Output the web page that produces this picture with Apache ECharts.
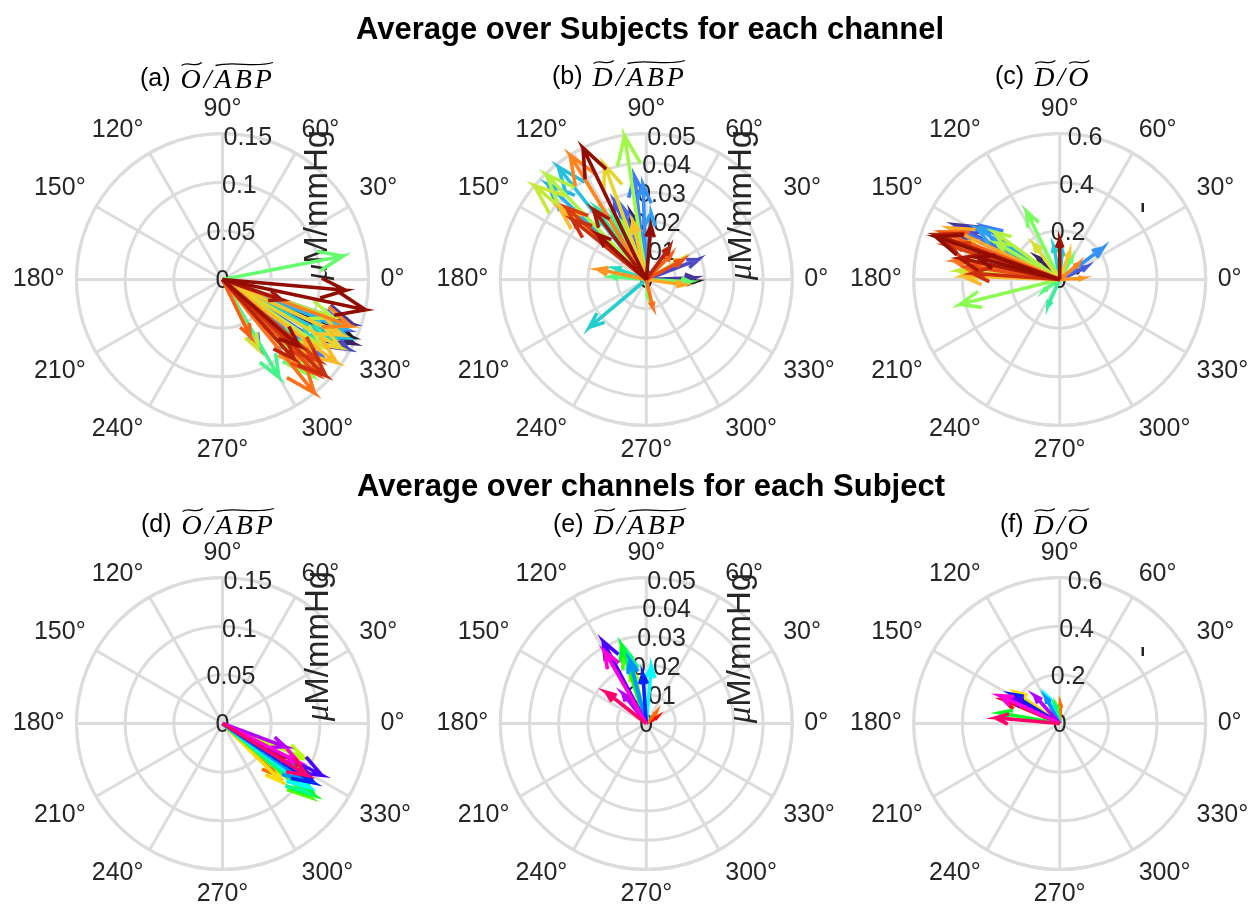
<!DOCTYPE html>
<html>
<head>
<meta charset="utf-8">
<script src="https://cdn.jsdelivr.net/npm/echarts@6/dist/echarts.min.js"></script>
<style>
  html, body { margin: 0; padding: 0; background: #ffffff; }
  #chart { width: 1252px; height: 909px; }
</style>
</head>
<body>
<div id="chart"></div>
<script>
// ---- angular ticks (degrees) ----
const angleTicks = [0, 30, 60, 90, 120, 150, 180, 210, 240, 270, 300, 330];

// ---- radial ticks for each quantity ----
const ticksOABP = [0, 0.05, 0.1, 0.15];
const labelsOABP = ['0', '0.05', '0.1', '0.15'];
const ticksDABP = [0, 0.01, 0.02, 0.03, 0.04, 0.05];
const labelsDABP = ['0', '0.01', '0.02', '0.03', '0.04', '0.05'];
const ticksDO = [0, 0.2, 0.4, 0.6];
const labelsDO = ['0', '0.2', '0.4', '0.6'];

// ---- (a) O/ABP, average over subjects, one arrow per channel: magnitude, phase (deg) ----
const magA = [0.146, 0.150, 0.142, 0.148, 0.139, 0.120, 0.132, 0.081, 0.112, 0.135,
              0.142, 0.128, 0.115, 0.124, 0.100, 0.116, 0.130, 0.126, 0.118, 0.135,
              0.140, 0.120, 0.125, 0.080, 0.140, 0.135, 0.145, 0.128, 0.120, 0.140,
              0.150, 0.065, 0.138, 0.130, 0.145, 0.110, 0.064, 0.104, 0.150, 0.127];
const phsA = [336, 334, 341, 331, 338, 327, 322, 298, 316, 338,
              335, 332, 325, 330, 318, 300, 312, 11, 320, 313,
              317, 341, 326, 297, 330, 335, 324, 318, 312, 340,
              309, 296, 315, 320, 317, 312, 341, 319, 348, 355];

// ---- (b) D/ABP, average over subjects ----
const magB = [0.0171, 0.0234, 0.0165, 0.019, 0.029, 0.026, 0.0356, 0.0325, 0.0229, 0.047,
              0.049, 0.0255, 0.0116, 0.030, 0.022, 0.025, 0.012, 0.015, 0.006, 0.020,
              0.0497, 0.0497, 0.050, 0.014, 0.0418, 0.0204, 0.0385, 0.013, 0.0169, 0.050,
              0.0098, 0.012, 0.014, 0.0368, 0.0325, 0.0135, 0.030, 0.0226, 0.0183, 0.050];
const phsB = [358, 103, 2, 21, 112, 108, 96.5, 92, 86, 136,
              128, 220, 160, 125, 120, 117, 175, 357, 275, 112,
              98.6, 133.6, 140, 30, 110, 103, 140.4, 352, 168, 121.5,
              283, 45, 28, 138, 141, 54, 127, 137, 85, 115.7];

// ---- (c) D/O, average over subjects ----
const magC = [0.09, 0.13, 0.485, 0.47, 0.123, 0.46, 0.38, 0.22, 0.40, 0.25,
              0.12, 0.14, 0.35, 0.30, 0.12, 0.40, 0.08, 0.10, 0.311, 0.422,
              0.30, 0.33, 0.42, 0.18, 0.45, 0.12, 0.40, 0.50, 0.095, 0.10,
              0.44, 0.52, 0.38, 0.49, 0.36, 0.54, 0.42, 0.164, 0.35, 0.541];
const phsC = [25, 135, 152.4, 155, 25, 153, 145, 36, 148, 150,
              85, 100, 165, 160, 246, 168, 215, 60, 116, 194,
              150, 144, 175, 126, 160, 70, 178, 155, 3, 40,
              170, 158, 172, 163, 176, 160, 168, 90, 165, 160.9];

// ---- (d) O/ABP, average over channels, one arrow per subject ----
const magD = [0.095, 0.077, 0.0855, 0.092, 0.118, 0.120, 0.113, 0.110, 0.100, 0.112, 0.115, 0.069, 0.088, 0.102];
const phsD = [330, 316.5, 315.5, 337, 320, 322, 321, 323.6, 325, 327, 332.5, 339.6, 333, 328.5];

// ---- (e) D/ABP, average over channels ----
const magE = [0.004, 0.005, 0.017, 0.019, 0.025, 0.0282, 0.024, 0.0196, 0.0225, 0.017, 0.0317, 0.013, 0.0284, 0.0174];
const phsE = [30, 48, 103, 106, 108, 107.4, 104, 85, 104.7, 94, 117.7, 128, 120, 142];

// ---- (f) D/O, average over channels ----
const magF = [0.25, 0.08, 0.218, 0.20, 0.075, 0.25, 0.076, 0.127, 0.12, 0.23, 0.22, 0.153, 0.27, 0.265];
const phsF = [157, 88, 144.4, 150, 100, 170, 105, 115.4, 118, 148.5, 152, 131.8, 155, 175];

// ---- colour maps ----
function turbo(t) {
  const r = 0.13572138 + t * (4.61539260 + t * (-42.66032258 + t * (132.13108234 + t * (-152.94239396 + t * 59.28637943))));
  const g = 0.09140261 + t * (2.19418839 + t * (4.84296658 + t * (-14.18503333 + t * (4.27729857 + t * 2.82956604))));
  const b = 0.10667330 + t * (12.64194608 + t * (-60.58204836 + t * (110.36276771 + t * (-89.90310912 + t * 27.34824973))));
  const c = v => Math.round(255 * Math.max(0, Math.min(1, v)));
  return 'rgb(' + c(r) + ',' + c(g) + ',' + c(b) + ')';
}
function hsv(h) {
  const i = Math.floor(h * 6), f = h * 6 - i;
  const q = 1 - f, t = f;
  const rgb = [[1, t, 0], [q, 1, 0], [0, 1, t], [0, q, 1], [t, 0, 1], [1, 0, q]][i % 6];
  return 'rgb(' + rgb.map(v => Math.round(v * 255)).join(',') + ')';
}
const channelColor = (i, n) => turbo(i / (n - 1));
const subjectColor = (i, n) => hsv(i / n);

// ---- layout ----
const GRID = '#dcdcdc';
const LABEL = '#262626';
const SANS = '"Liberation Sans", Arial, sans-serif';
const SERIF = '"Liberation Serif", "Times New Roman", serif';
const R = 146;
const centers = [[222.5, 279.5], [646.3, 279.5], [1059.7, 279.5],
                 [222.5, 723.5], [646.3, 723.5], [1059.7, 723.5]];

const panels = [
  { mag: magA, phs: phsA, ticks: ticksOABP, labels: labelsOABP, step: 0.05, color: channelColor },
  { mag: magB, phs: phsB, ticks: ticksDABP, labels: labelsDABP, step: 0.01, color: channelColor },
  { mag: magC, phs: phsC, ticks: ticksDO, labels: labelsDO, step: 0.2, color: channelColor },
  { mag: magD, phs: phsD, ticks: ticksOABP, labels: labelsOABP, step: 0.05, color: subjectColor },
  { mag: magE, phs: phsE, ticks: ticksDABP, labels: labelsDABP, step: 0.01, color: subjectColor },
  { mag: magF, phs: phsF, ticks: ticksDO, labels: labelsDO, step: 0.2, color: subjectColor }
];

const polar = centers.map(c => ({ center: c, radius: R }));

const angleAxis = panels.map((p, k) => ({
  polarIndex: k, type: 'value', min: 0, max: 360, interval: 30,
  startAngle: 0, clockwise: false,
  axisLine: { show: true, lineStyle: { color: GRID, width: 3 } },
  axisTick: { show: false },
  splitLine: { show: true, lineStyle: { color: GRID, width: 3 } },
  axisLabel: {
    show: true, margin: 12, color: LABEL, fontSize: 25, fontFamily: SANS,
    formatter: v => (angleTicks.indexOf(v) >= 0 ? v + '°' : '')
  }
}));

const radiusAxis = panels.map((p, k) => ({
  polarIndex: k, type: 'value', min: 0, max: p.ticks[p.ticks.length - 1], interval: p.step,
  axisLine: { show: false }, axisTick: { show: false }, axisLabel: { show: false },
  splitLine: { show: true, lineStyle: { color: GRID, width: 3 } }
}));

const series = [];
panels.forEach((p, k) => {
  // radial tick labels along the 80° ray
  series.push({
    type: 'custom', coordinateSystem: 'polar', polarIndex: k, z: 3, silent: true,
    data: p.ticks.map(v => [v, 80]),
    renderItem(params, api) {
      const pt = api.coord([api.value(0), 80]);
      return {
        type: 'text', x: pt[0], y: pt[1] + 2,
        style: { text: p.labels[params.dataIndex], fill: LABEL, fontSize: 25, fontFamily: SANS,
                 align: 'center', verticalAlign: 'middle' }
      };
    }
  });
  // compass arrows
  const n = p.mag.length;
  series.push({
    type: 'custom', coordinateSystem: 'polar', polarIndex: k, z: 4, silent: true,
    data: p.mag.map((m, i) => [m, p.phs[i], i]),
    renderItem(params, api) {
      const r = api.value(0), a = api.value(1), i = api.value(2);
      const o = api.coord([0, a]);
      const t = api.coord([r, a]);
      const dx = t[0] - o[0], dy = t[1] - o[1];
      const h1 = [o[0] + 0.8 * dx - 0.08 * dy, o[1] + 0.8 * dy + 0.08 * dx];
      const h2 = [o[0] + 0.8 * dx + 0.08 * dy, o[1] + 0.8 * dy - 0.08 * dx];
      return {
        type: 'polyline',
        shape: { points: [o, t, h1, t, h2] },
        style: { stroke: p.color(i, n), lineWidth: 3.6, fill: null, lineJoin: 'miter', lineCap: 'butt' }
      };
    }
  });
});

// ---- text helpers ----
const measureCtx = document.createElement('canvas').getContext('2d');
function textWidth(text, font) { measureCtx.font = font; return measureCtx.measureText(text).width; }

function tilde(x1, x2, y) {
  const w = x2 - x1;
  return {
    type: 'bezierCurve', z: 10,
    shape: { x1: x1, y1: y + 1.5, cpx1: x1 + w * 0.35, cpy1: y - 3.5, cpx2: x1 + w * 0.65, cpy2: y + 4.5, x2: x2, y2: y - 1.5 },
    style: { stroke: '#000', lineWidth: 1.3, fill: null }
  };
}

// "(x)" tag followed by an italic ratio with tildes over the numerator and denominator
function subtitle(x0, yc, tag, parts) {
  const els = [];
  const tagFont = '25px ' + SANS;
  const mathFont = 'italic 28px ' + SERIF;
  const gap = 3;
  els.push({ type: 'text', x: x0, y: yc, z: 10, style: { text: tag, font: tagFont, fill: '#000', verticalAlign: 'middle' } });
  let x = x0 + textWidth(tag, tagFont) + 10;
  parts.forEach(part => {
    const start = x;
    part.t.split('').forEach((ch, j) => {
      if (j > 0) x += gap;
      els.push({ type: 'text', x: x, y: yc + 2, z: 10, style: { text: ch, font: mathFont, fill: '#000', verticalAlign: 'middle' } });
      x += textWidth(ch, mathFont);
    });
    if (part.tilde) els.push(tilde(start + 1, x + 1, yc - 15));
    x += 3;
  });
  return els;
}

function unitLabel(x, y) {
  return {
    type: 'text', x: x, y: y, rotation: Math.PI / 2, z: 2,
    style: {
      text: '{mu|μ}M/mmHg', fill: LABEL, font: '33px ' + SANS, align: 'center', verticalAlign: 'middle',
      rich: { mu: { font: 'italic 33px ' + SERIF, fill: LABEL } }
    }
  };
}

const OABP = [{ t: 'O', tilde: true }, { t: '/' }, { t: 'ABP', tilde: true }];
const DABP = [{ t: 'D', tilde: true }, { t: '/' }, { t: 'ABP', tilde: true }];
const DO = [{ t: 'D', tilde: true }, { t: '/' }, { t: 'O', tilde: true }];

const graphic = [
  { type: 'text', x: 650, y: 30, style: { text: 'Average over Subjects for each channel', font: 'bold 31px ' + SANS, fill: '#000', align: 'center', verticalAlign: 'middle' } },
  { type: 'text', x: 651, y: 487, style: { text: 'Average over channels for each Subject', font: 'bold 31px ' + SANS, fill: '#000', align: 'center', verticalAlign: 'middle' } },
  ...subtitle(140, 79, '(a)', OABP),
  ...subtitle(552, 77, '(b)', DABP),
  ...subtitle(995, 77, '(c)', DO),
  ...subtitle(141, 525, '(d)', OABP),
  ...subtitle(553, 525, '(e)', DABP),
  ...subtitle(1000, 525, '(f)', DO),
  unitLabel(318, 205),
  unitLabel(742, 205),
  unitLabel(319, 646),
  unitLabel(741, 648),
  { type: 'rect', shape: { x: 1141.5, y: 203, width: 2.5, height: 9 }, style: { fill: LABEL } },
  { type: 'rect', shape: { x: 1141.5, y: 647, width: 2.5, height: 9 }, style: { fill: LABEL } }
];

const chart = echarts.init(document.getElementById('chart'), null, { renderer: 'canvas' });
chart.setOption({
  backgroundColor: '#ffffff',
  animation: false,
  polar: polar,
  angleAxis: angleAxis,
  radiusAxis: radiusAxis,
  series: series,
  graphic: graphic
});
</script>
</body>
</html>
